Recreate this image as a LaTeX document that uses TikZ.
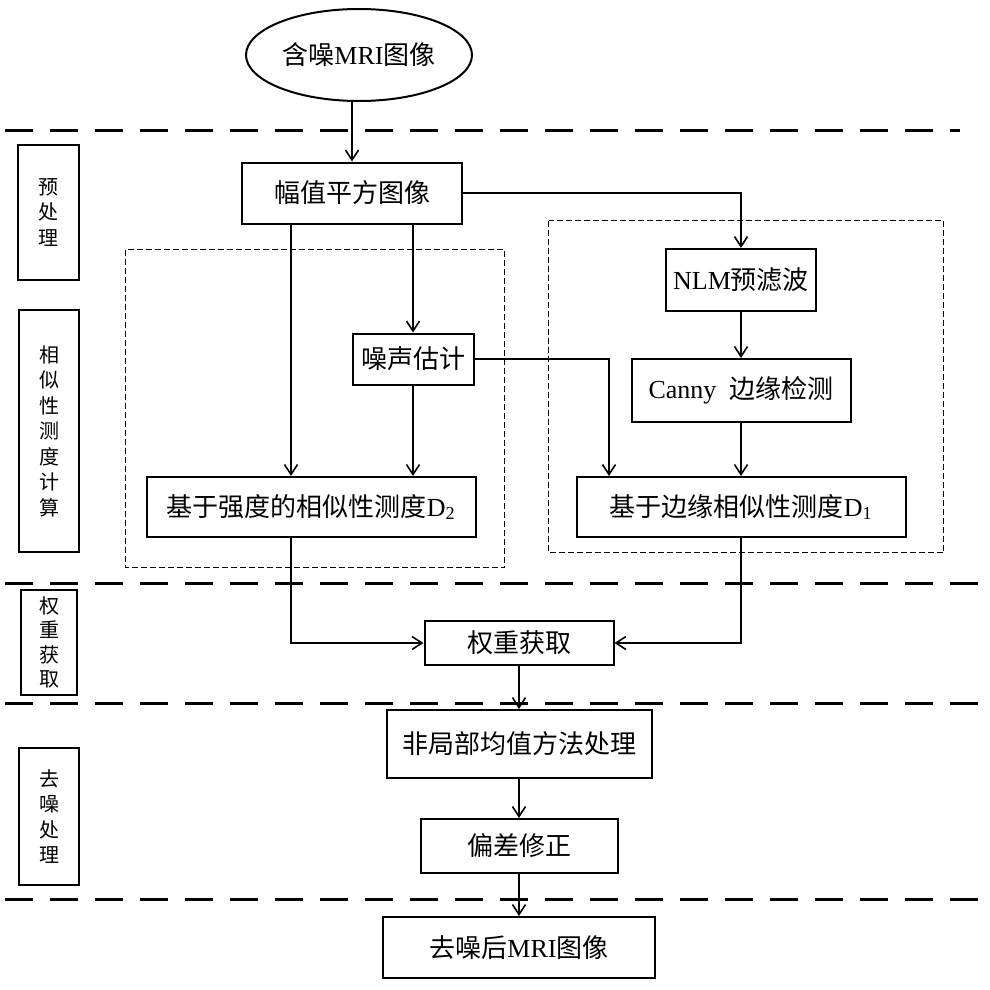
\documentclass[tikz,border=0pt]{standalone}
\usepackage{fontspec}
\setmainfont{Liberation Serif}
\newfontfamily\cjk{Noto Sans CJK SC}
\usetikzlibrary{arrows.meta,shapes.geometric}
\newcommand{\zh}[1]{{\cjk #1}}
\begin{document}
\begin{tikzpicture}[x=1pt,y=-1pt,
  box/.style={draw, line width=2pt, inner sep=0pt, font=\fontsize{26}{30}\selectfont},
  lab/.style={draw, line width=2pt, inner sep=0pt, align=center, font=\cjk\fontsize{20}{25.5}\selectfont},
  sepline/.style={line width=3pt, dash pattern=on 28pt off 17pt},
  dbox/.style={line width=1pt, dash pattern=on 6pt off 3pt},
  arr/.style={line width=2pt, -{Straight Barb[length=10pt,width=13pt,line width=1.6pt]}}]
\useasboundingbox[fill=white] (0,0) rectangle (990,990);

% separators
\coordinate (s1a) at (5,130);   \coordinate (s1b) at (960,130);
\coordinate (s2a) at (5,583);   \coordinate (s2b) at (990,583);
\coordinate (s3a) at (5,703);   \coordinate (s3b) at (990,703);
\coordinate (s4a) at (5,899);   \coordinate (s4b) at (990,899);
\draw[sepline] (s1a) -- (s1b);
\draw[sepline] (s2a) -- (s2b);
\draw[sepline] (s3a) -- (s3b);
\draw[sepline] (s4a) -- (s4b);

% dashed group boxes
\coordinate (g1a) at (125.5,249.5); \coordinate (g1b) at (504.5,567.5);
\coordinate (g2a) at (548.5,220.5); \coordinate (g2b) at (943.5,552.5);
\draw[dbox] (g1a) rectangle (g1b);
\draw[dbox] (g2a) rectangle (g2b);

% stage labels
\node[lab, minimum width=61, minimum height=135] (l1) at (48.5,212.5) {预\\处\\理};
\node[lab, minimum width=60, minimum height=242] (l2) at (49,431) {相\\似\\性\\测\\度\\计\\算};
\node[lab, minimum width=56, minimum height=105, font=\cjk\fontsize{20}{24.5}\selectfont] (l3) at (49,642.5) {权\\重\\获\\取};
\node[lab, minimum width=60, minimum height=137] (l4) at (49,816.5) {去\\噪\\处\\理};

% main nodes
\node[ellipse, draw, line width=2pt, minimum width=226, minimum height=92, inner sep=0pt,
      font=\fontsize{26}{30}\selectfont] (in) at (359,55) {\zh{含噪}MRI\zh{图像}};
\node[box, minimum width=220, minimum height=61] (fz) at (352,193) {\zh{幅值平方图像}};
\node[box, minimum width=150, minimum height=62] (nlm) at (741,280) {NLM\zh{预滤波}};
\node[box, minimum width=121, minimum height=51] (zs) at (413,359) {\zh{噪声估计}};
\node[box, minimum width=219, minimum height=63] (cn) at (741,390.5) {Canny~~\zh{边缘检测}};
\node[box, minimum width=329, minimum height=60] (d2) at (311,507) {\zh{基于强度的相似性测度}D\textsubscript{2}};
\node[box, minimum width=329, minimum height=60] (d1) at (741,507) {\zh{基于边缘相似性测度}D\textsubscript{1}};
\node[box, minimum width=189, minimum height=44] (qz) at (519,643) {\zh{权重获取}};
\node[box, minimum width=265, minimum height=68] (fj) at (519,744) {\zh{非局部均值方法处理}};
\node[box, minimum width=197, minimum height=54] (pc) at (519,846) {\zh{偏差修正}};
\node[box, minimum width=272, minimum height=61] (out) at (519,947.5) {\zh{去噪后}MRI\zh{图像}};

% connectors
\coordinate (xa) at (291,0);
\coordinate (xb) at (609,0);
\draw[arr] (in.south -| fz.north) -- (fz.north);
\draw[arr] (fz.east) -| (nlm.north);
\draw[arr] (fz.south -| xa) -- (d2.north -| xa);
\draw[arr] (fz.south -| zs.north) -- (zs.north);
\draw[arr] (zs.south) -- (zs.south |- d2.north);
\draw[arr] (zs.east) -| (d1.north -| xb);
\draw[arr] (nlm.south) -- (nlm.south |- cn.north);
\draw[arr] (cn.south) -- (cn.south |- d1.north);
\draw[arr] (d2.south -| xa) |- (qz.west);
\draw[arr] (d1.south) |- (qz.east);
\draw[arr] (qz.south) -- (qz.south |- fj.north);
\draw[arr] (fj.south) -- (fj.south |- pc.north);
\draw[arr] (pc.south) -- (pc.south |- out.north);
\end{tikzpicture}
\end{document}
